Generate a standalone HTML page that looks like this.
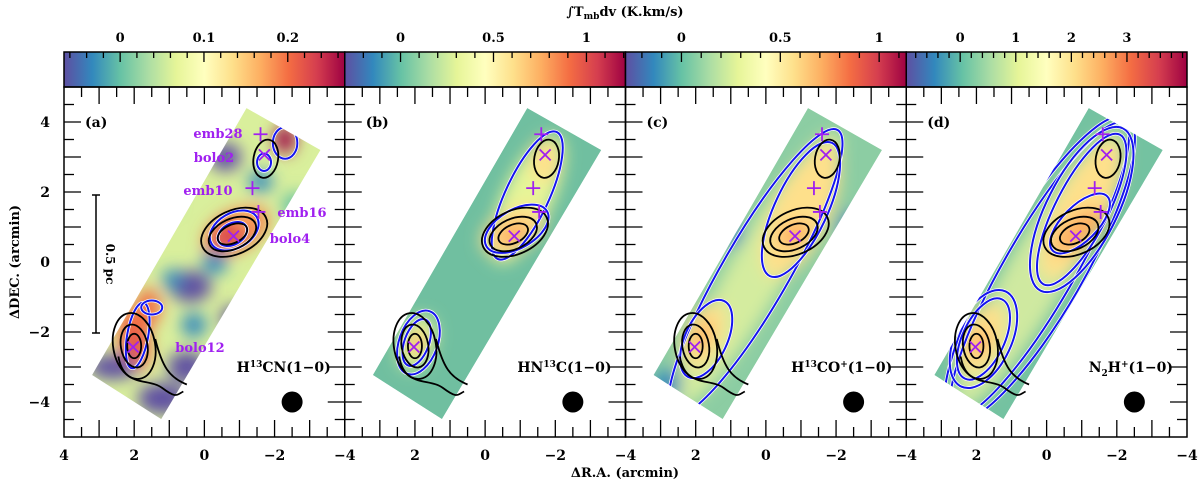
<!DOCTYPE html>
<html><head><meta charset="utf-8">
<style>
html,body{margin:0;padding:0;background:#fff;}
svg{display:block;font-family:"DejaVu Serif","Liberation Serif",serif;font-weight:bold;}
</style></head>
<body>
<svg id="fig" width="1200" height="483" viewBox="0 0 1200 483">
<defs>
<linearGradient id="spectral" x1="0" x2="1" y1="0" y2="0">
<stop offset="0" stop-color="#5e4fa2"/><stop offset="0.1" stop-color="#3288bd"/>
<stop offset="0.2" stop-color="#66c2a5"/><stop offset="0.3" stop-color="#abdda4"/>
<stop offset="0.4" stop-color="#e6f598"/><stop offset="0.5" stop-color="#ffffbf"/>
<stop offset="0.6" stop-color="#fee08b"/><stop offset="0.7" stop-color="#fdae61"/>
<stop offset="0.8" stop-color="#f46d43"/><stop offset="0.9" stop-color="#d53e4f"/>
<stop offset="1" stop-color="#9e0142"/>
</linearGradient>
<filter id="blur" x="-50%" y="-50%" width="200%" height="200%"><feGaussianBlur stdDeviation="8"/></filter>
</defs>
<text x="625" y="16" text-anchor="middle" font-size="13">∫T<tspan font-size="9" dy="3">mb</tspan><tspan dy="-3">dv (K.km/s)</tspan></text>
<text x="0" y="0" transform="translate(19,262) rotate(-90)" text-anchor="middle" font-size="13">ΔDEC. (arcmin)</text>
<text x="625" y="477" text-anchor="middle" font-size="13">ΔR.A. (arcmin)</text>
<g id="root"></g>
</svg>
<script>
// ---- data ----
const panelLabels = ["(a)","(b)","(c)","(d)"];
const lineNames = ["H<tspan font-size='9' dy='-5'>13</tspan><tspan dy='5'>CN(1−0)</tspan>","HN<tspan font-size='9' dy='-5'>13</tspan><tspan dy='5'>C(1−0)</tspan>","H<tspan font-size='9' dy='-5'>13</tspan><tspan dy='5'>CO</tspan><tspan font-size='9' dy='-5'>+</tspan><tspan dy='5'>(1−0)</tspan>","N<tspan font-size='9' dy='4'>2</tspan><tspan dy='-4'>H</tspan><tspan font-size='9' dy='-5'>+</tspan><tspan dy='5'>(1−0)</tspan>"];
const cbarMin = [-0.067, -0.30, -0.283, -0.97];
const cbarMax = [0.268, 1.21, 1.137, 4.08];
const cbarMajor = [[0,0.1,0.2],[0,0.5,1],[0,0.5,1],[0,1,2,3]];
const cbarMajorLabels = [["0","0.1","0.2"],["0","0.5","1"],["0","0.5","1"],["0","1","2","3"]];
const cbarMinorStep = [0.02,0.1,0.1,0.2];
const xTicks = [4,2,0,-2,-4];
const yTicks = [4,2,0,-2,-4];
const stripX = [-1.2,-3.31,1.23,3.2];
const stripY = [4.4,3.2,-4.49,-3.23];
const plusNames = ["emb28","emb10","emb16"];
const plusX = [-1.6,-1.37,-1.54];
const plusY = [3.65,2.11,1.43];
const crossNames = ["bolo2","bolo4","bolo12"];
const crossX = [-1.71,-0.83,2.03];
const crossY = [3.06,0.74,-2.43];
// blobs per panel: x, y, semi-axis a, semi-axis b (arcmin), screen angle (deg), color
const baseColor = ["#d9ef9c","#70bfa0","#8ccda3","#74c2a1"];
const blobs = [
 [[-0.9,0.9,1.0,0.55,-30,"#f46d43"],[-0.8,0.8,0.5,0.3,-30,"#d53e4f"],[2.0,-2.2,0.45,0.9,-10,"#f46d43"],[2.0,-2.3,0.2,0.4,0,"#d53e4f"],[1.6,-1.3,0.35,0.55,0,"#f46d43"],[-2.3,3.5,0.3,0.4,0,"#9e0142"],[-1.2,1.2,0.3,0.3,0,"#fdae61"],
  [-0.6,3.0,0.45,0.4,0,"#5e4fa2"],[0.4,-0.7,0.6,0.45,0,"#5e4fa2"],[2.6,-3.0,0.7,0.35,0,"#5e4fa2"],[1.2,-3.9,0.7,0.45,0,"#5e4fa2"],[0.5,-3.0,0.55,0.45,0,"#5e4fa2"],[-0.9,-1.6,0.45,0.35,0,"#5e4fa2"],[2.3,0.2,0.5,0.5,0,"#5e4fa2"],[0.3,-1.8,0.35,0.35,0,"#3288bd"],[-0.3,0.0,0.35,0.35,0,"#3288bd"],[-1.6,2.3,0.35,0.3,0,"#3288bd"],[1.2,1.8,0.4,0.4,0,"#66c2a5"],[-2.6,1.6,0.4,0.4,0,"#66c2a5"],[0.9,-0.5,0.3,0.3,0,"#3288bd"]],
 [[-1.2,1.8,2.0,0.7,-65,"#e6f598"],[-0.8,0.9,1.0,0.6,-30,"#fee08b"],[-0.8,0.8,0.5,0.32,-30,"#fdae61"],[-1.7,2.9,0.4,0.65,0,"#fee08b"],[1.95,-2.3,0.8,0.5,-70,"#e6f598"],[1.95,-2.3,0.35,0.2,-70,"#fdae61"]],
 [[0.2,-0.2,4.5,0.8,-60,"#d4ec9f"],[-1.0,1.4,2.0,0.8,-65,"#fee08b"],[-0.8,0.8,0.5,0.32,-30,"#fdae61"],[-1.7,2.9,0.4,0.6,0,"#fee08b"],[1.8,-2.1,1.0,0.55,-65,"#fee08b"],[1.8,-2.1,0.45,0.22,-65,"#fdae61"],[1.0,0.8,0.35,0.35,0,"#3288bd"],[-2.5,1.0,0.45,0.45,0,"#3288bd"],[2.8,-3.5,0.4,0.4,0,"#3288bd"]],
 [[0.2,-0.2,4.6,0.9,-60,"#cfe9a0"],[-1.0,1.5,2.2,0.75,-63,"#fee08b"],[-0.9,0.9,0.9,0.4,-40,"#fdae61"],[-1.7,2.9,0.4,0.6,0,"#fee08b"],[1.9,-2.2,1.1,0.6,-65,"#fee08b"],[1.9,-2.3,0.4,0.25,-65,"#fdae61"]]
];
// dust (black) contours: x, y, a, b, angle
const dustC = [[-0.85,0.85,1.0,0.62,-25],[-0.8,0.8,0.72,0.43,-25],[-0.8,0.8,0.45,0.26,-25],[-1.75,2.95,0.35,0.55,10],[2.0,-2.4,0.6,0.95,-10],[2.0,-2.4,0.38,0.62,-10],[2.0,-2.4,0.2,0.35,0]];
// blue contours per panel: x, y, a, b, angle
const blueC = [
 [[-0.85,0.9,0.75,0.5,-30],[-0.8,0.8,0.45,0.3,-30],[1.9,-2.1,0.95,0.3,-80],[-2.3,3.4,0.35,0.45,0],[-1.7,2.85,0.2,0.25,0],[1.5,-1.3,0.3,0.2,0]],
 [[-1.2,1.9,2.0,0.62,-65],[-0.9,0.95,1.0,0.55,-30],[1.9,-2.3,0.95,0.55,-70],[1.95,-2.3,0.7,0.35,-70]],
 [[0.3,-0.3,4.7,0.95,-60],[-1.0,1.5,2.1,0.75,-65],[1.7,-2.2,1.2,0.6,-65]],
 [[0.2,-0.2,5.0,1.25,-60],[0.2,-0.2,4.8,1.0,-60],[-1.0,1.5,2.6,1.0,-63],[-1.0,1.5,2.4,0.75,-63],[-0.95,1.1,1.1,0.5,-45],[1.8,-2.2,1.5,0.8,-65],[1.8,-2.2,1.25,0.6,-65]]
];
// ---- drawing ----
const NS="http://www.w3.org/2000/svg";
const root=document.getElementById('root');
function el(tag,attrs,parent){const e=document.createElementNS(NS,tag);for(const k in attrs)e.setAttribute(k,attrs[k]);(parent||root).appendChild(e);return e;}
const PW=280.75, TOP=87, BOT=437, CB0=52, U=35;
function sx(i,x){return 64+i*PW+(4-x)*PW/8;}
function sy(y){return TOP+(5-y)*U;}
function ell(i,c,attrs,parent){
  const X=sx(i,c[0]),Y=sy(c[1]);
  return el('ellipse',Object.assign({cx:X,cy:Y,rx:c[2]*U,ry:c[3]*U,transform:`rotate(${c[4]} ${X} ${Y})`},attrs||{}),parent);
}
for(let i=0;i<4;i++){
  const X0=64+i*PW;
  const g=el('g',{});
  
  
  const cb=el('rect',{x:X0,y:CB0,width:PW,height:35,fill:'url(#spectral)',stroke:'#000','stroke-width':1.5},g);
  
  
  const cx=v=>X0+(v-cbarMin[i])/(cbarMax[i]-cbarMin[i])*PW;
  const st=cbarMinorStep[i];
  for(let v=Math.ceil(cbarMin[i]/st)*st;v<=cbarMax[i];v+=st){
    const p=cx(v);if(p<X0+1||p>X0+PW-1)continue;
    const maj=cbarMajor[i].some(m=>Math.abs(m-v)<st/3);
    el('line',{x1:p,x2:p,y1:CB0,y2:CB0+(maj?10:6),stroke:'#000','stroke-width':1.3},g);
  }
  cbarMajor[i].forEach((v,j)=>{
    const t=el('text',{x:cx(v),y:CB0-10,'text-anchor':'middle','font-size':13},g);
    t.textContent=cbarMajorLabels[i][j];
    
    
  });
  const cp=el('clipPath',{id:'clip'+i},g);
  const pts=stripX.map((x,k)=>sx(i,x)+','+sy(stripY[k])).join(' ');
  el('polygon',{points:pts},cp);
  const map=el('g',{'clip-path':'url(#clip'+i+')'},g);
  
  
  el('polygon',{points:pts,fill:baseColor[i]},map);
  const bg=el('g',{filter:'url(#blur)'},map);
  blobs[i].forEach(b=>{ell(i,b,{fill:b[5]},bg);});
  const bc=el('g',{fill:'none','clip-path':'url(#clip'+i+')'},g);
  
  
  blueC[i].forEach(c=>{ell(i,c,{stroke:'#fff','stroke-width':3.5},bc);ell(i,c,{stroke:'#1515ee','stroke-width':2},bc);});
  const dc=el('g',{fill:'none',stroke:'#000','stroke-width':1.8},g);
  
  
  dustC.forEach(c=>{ell(i,c,{},dc);});
  el('path',{d:`M${sx(i,2.45)},${sy(-2.7)} C${sx(i,2.3)},${sy(-3.6)} ${sx(i,1.6)},${sy(-3.3)} ${sx(i,1.2)},${sy(-3.6)} S${sx(i,0.8)},${sy(-3.8)} ${sx(i,0.6)},${sy(-3.7)} M${sx(i,1.4)},${sy(-2.2)} C${sx(i,1.2)},${sy(-3.0)} ${sx(i,1.0)},${sy(-3.3)} ${sx(i,0.5)},${sy(-3.5)}`},dc);
  const mk=el('g',{stroke:'#a020f0','stroke-width':1.8,fill:'none'},g);
  plusX.forEach((x,k)=>{
    const px=sx(i,x),py=sy(plusY[k]);
    const p=el('path',{d:`M${px-7},${py}H${px+7}M${px},${py-7}V${py+7}`},mk);
    
    
  });
  crossX.forEach((x,k)=>{
    const px=sx(i,x),py=sy(crossY[k]);
    const p=el('path',{d:`M${px-5.5},${py-5.5}L${px+5.5},${py+5.5}M${px-5.5},${py+5.5}L${px+5.5},${py-5.5}`},mk);
    
    
  });
  const fr=el('rect',{x:X0,y:TOP,width:PW,height:BOT-TOP,fill:'none',stroke:'#000','stroke-width':1.5},g);
  
  
  for(let v=-4.5;v<=4.5;v+=0.5){
    const p=sy(v),L=Number.isInteger(v)?17:10;
    el('line',{x1:X0,x2:X0+L,y1:p,y2:p,stroke:'#000','stroke-width':1.3},g);
    el('line',{x1:X0+PW-L,x2:X0+PW,y1:p,y2:p,stroke:'#000','stroke-width':1.3},g);
  }
  for(let v=-3.5;v<=3.5;v+=0.5){
    const p=sx(i,v),L=Number.isInteger(v)?17:10;
    el('line',{x1:p,x2:p,y1:BOT,y2:BOT-L,stroke:'#000','stroke-width':1.3},g);
    el('line',{x1:p,x2:p,y1:TOP,y2:TOP+L,stroke:'#000','stroke-width':1.3},g);
  }
  xTicks.forEach(v=>{
    if(i>0&&v===4)return;
    const t=el('text',{x:sx(i,v),y:460,'text-anchor':'middle','font-size':14},g);
    t.textContent=v<0?'−'+(-v):String(v);
    
    
  });
  const pl=el('text',{x:X0+21,y:sy(4)+5,'font-size':14},g);
  pl.textContent=panelLabels[i];
  
  
  const ln=el('text',{x:X0+PW-14,y:sy(-3)+5,'text-anchor':'end','font-size':14},g);
  ln.innerHTML=lineNames[i];
  
  
  const beam=el('circle',{cx:sx(i,-2.5),cy:sy(-4),r:10.5,fill:'#000'},g);
  
  
}
yTicks.forEach(v=>{
  const t=el('text',{x:50,y:sy(v)+5,'text-anchor':'end','font-size':14});
  t.textContent=v<0?'−'+(-v):String(v);
  
  
});
const lblTxt=["emb28","bolo2","emb10","emb16","bolo4","bolo12"];
const lblX=[218,214,208,302,290,200];
const lblY=[138,162,195,217,243,352];
lblTxt.forEach((s,k)=>{
  const t=el('text',{x:lblX[k],y:lblY[k],'text-anchor':'middle','font-size':13,fill:'#a020f0'});
  t.textContent=s;
  
  
});
const sb=el('path',{d:'M92,195H100M96,195V333M92,333H100',stroke:'#000','stroke-width':1.5,fill:'none'});


const sbt=el('text',{x:0,y:0,transform:'translate(106,264) rotate(90)','text-anchor':'middle','font-size':12});
sbt.textContent='0.5 pc';


</script>
</body></html>
